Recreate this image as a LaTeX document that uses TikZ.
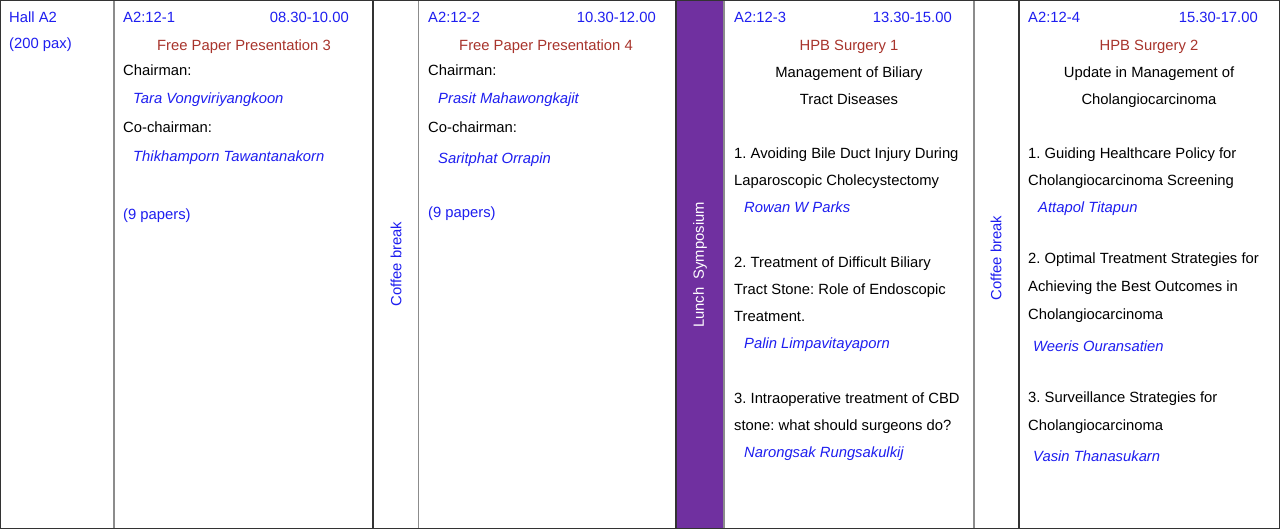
\documentclass[tikz,border=0pt]{standalone}
\usepackage{fontspec}
\setmainfont{Liberation Sans}
\frenchspacing
\definecolor{tblue}{HTML}{1E1EF0}
\definecolor{tred}{HTML}{A8342C}
\definecolor{tpurple}{HTML}{7030A0}
\definecolor{dline}{HTML}{333333}
\definecolor{gline}{HTML}{8C8C8C}
\tikzset{
  txt/.style={inner sep=0pt, anchor=base west, font=\fontsize{14.8}{17}\selectfont},
  rtxt/.style={txt, anchor=base east},
  ctxt/.style={txt, anchor=base},
  blu/.style={text=tblue},
  nm/.style={txt, text=tblue, font=\fontsize{14.8}{17}\selectfont\itshape},
  ttl/.style={ctxt, text=tred},
  vtxt/.style={inner sep=0pt, rotate=90, anchor=center, font=\fontsize{14.8}{17}\selectfont},
  dl/.style={draw=dline, line width=1.3pt},
  gl/.style={draw=gline, line width=1.3pt}
}
\begin{document}
\begin{tikzpicture}[x=1pt,y=-1pt]
\useasboundingbox (0,0) rectangle (1280,529);
\fill[white] (0,0) rectangle (1280,529);
% purple column
\fill[tpurple] (676,0) rectangle (724,529);
% grid lines
\draw[gl] (114,0) -- (114,528);
\draw[gl] (418.5,0) -- (418.5,528);
\draw[gl] (724,0) -- (724,528);
\draw[gl] (974,0) -- (974,528);
\draw[dl] (373,0) -- (373,528);
\draw[dl] (676,0) -- (676,528);
\draw[dl] (1019,0) -- (1019,528);
\draw[dl] (0.6,0.6) rectangle (1279.4,528.2);

% hall
\node[txt,blu] (hall) at (9,22.5) {Hall A2};
\node[txt,blu] (pax) at (9,48.5) {(200 pax)};

% column 1
\node[txt,blu] (c1id) at (123,22.5) {A2:12-1};
\node[rtxt,blu] (c1t) at (349,22.5) {08.30-10.00};
\node[ttl] (c1ttl) at (244,50.5) {Free Paper Presentation 3};
\node[txt] (c1ch) at (123,75.5) {Chairman:};
\node[nm] (c1chn) at (133,103.5) {Tara Vongviriyangkoon};
\node[txt] (c1co) at (123,132.5) {Co-chairman:};
\node[nm] (c1con) at (133,161.5) {Thikhamporn Tawantanakorn};
\node[txt,blu] (c1p) at (123,219.5) {(9 papers)};

% coffee break 1
\node[vtxt,text=tblue] (cb1) at (396,264) {Coffee break};

% column 2
\node[txt,blu] (c2id) at (428,22.5) {A2:12-2};
\node[rtxt,blu] (c2t) at (656,22.5) {10.30-12.00};
\node[ttl] (c2ttl) at (546,50.5) {Free Paper Presentation 4};
\node[txt] (c2ch) at (428,75.5) {Chairman:};
\node[nm] (c2chn) at (438,103.5) {Prasit Mahawongkajit};
\node[txt] (c2co) at (428,132.5) {Co-chairman:};
\node[nm] (c2con) at (438,163.5) {Saritphat Orrapin};
\node[txt,blu] (c2p) at (428,217.5) {(9 papers)};

% lunch
\node[vtxt,text=white] (lunch) at (700,265) {Lunch\ \ Symposium};

% column 3
\node[txt,blu] (c3id) at (734,22.5) {A2:12-3};
\node[rtxt,blu] (c3t) at (952,22.5) {13.30-15.00};
\node[ttl] (c3ttl) at (849,50.5) {HPB Surgery 1};
\node[ctxt] (c3s1) at (849,77.5) {Management of Biliary};
\node[ctxt] (c3s2) at (849,104.5) {Tract Diseases};
\node[txt] (c3a1) at (734,158.5) {1. Avoiding Bile Duct Injury During};
\node[txt] (c3a2) at (734,185.5) {Laparoscopic Cholecystectomy};
\node[nm] (c3an) at (744,212.5) {Rowan W Parks};
\node[txt] (c3b1) at (734,267.5) {2. Treatment of Difficult Biliary};
\node[txt] (c3b2) at (734,294.5) {Tract Stone: Role of Endoscopic};
\node[txt] (c3b3) at (734,321.5) {Treatment.};
\node[nm] (c3bn) at (744,348.5) {Palin Limpavitayaporn};
\node[txt] (c3c1) at (734,403.5) {3. Intraoperative treatment of CBD};
\node[txt] (c3c2) at (734,430.5) {stone: what should surgeons do?};
\node[nm] (c3cn) at (744,457.5) {Narongsak Rungsakulkij};

% coffee break 2
\node[vtxt,text=tblue] (cb2) at (996,258) {Coffee break};

% column 4
\node[txt,blu] (c4id) at (1028,22.5) {A2:12-4};
\node[rtxt,blu] (c4t) at (1258,22.5) {15.30-17.00};
\node[ttl] (c4ttl) at (1149,50.5) {HPB Surgery 2};
\node[ctxt] (c4s1) at (1149,77.5) {Update in Management of};
\node[ctxt] (c4s2) at (1149,104.5) {Cholangiocarcinoma};
\node[txt] (c4a1) at (1028,158.5) {1. Guiding Healthcare Policy for};
\node[txt] (c4a2) at (1028,185.5) {Cholangiocarcinoma Screening};
\node[nm] (c4an) at (1038,212.5) {Attapol Titapun};
\node[txt] (c4b1) at (1028,263.5) {2. Optimal Treatment Strategies for};
\node[txt] (c4b2) at (1028,291.5) {Achieving the Best Outcomes in};
\node[txt] (c4b3) at (1028,319.5) {Cholangiocarcinoma};
\node[nm] (c4bn) at (1033,351.5) {Weeris Ouransatien};
\node[txt] (c4c1) at (1028,402.5) {3. Surveillance Strategies for};
\node[txt] (c4c2) at (1028,430.5) {Cholangiocarcinoma};
\node[nm] (c4cn) at (1033,461.5) {Vasin Thanasukarn};
\end{tikzpicture}
\end{document}
